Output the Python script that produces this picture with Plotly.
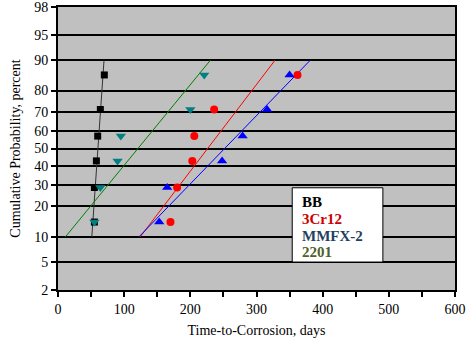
import numpy as np
import plotly.graph_objects as go
from statistics import NormalDist

nd = NormalDist()

# Data (days to corrosion), plotted at median ranks i/(n+1)
bb_days = [55, 55, 58, 60, 64, 70]
cr12_days = [170, 180, 203, 206, 236, 362]
mmfx_days = [153, 165, 248, 279, 316, 350]
d2201_days = [55, 64, 90, 95, 200, 221]
probs = [100 * i / 7 for i in range(1, 7)]

prob_ticks = [2, 5, 10, 20, 30, 40, 50, 60, 70, 80, 90, 95, 98]
x_ticks = [0, 100, 200, 300, 400, 500, 600]
legend_names = ["BB", "3Cr12", "MMFX-2", "2201"]


def z(p):
    return nd.inv_cdf(p / 100.0)


zs = np.array([z(p) for p in probs])
fit_ends = [10, 90]

series = [
    (bb_days, "#000000", "square", 7, "#333333"),
    (cr12_days, "#FF0000", "circle", 8, "#FF0000"),
    (mmfx_days, "#0000FF", "triangle-up", 9, "#0000FF"),
    (d2201_days, "#008080", "triangle-down", 9, "#008000"),
]

fig = go.Figure()

# fitted lines (least squares of days on normal score)
for days, mc, sym, sz, lc in series:
    slope, icpt = np.polyfit(zs, np.array(days, dtype=float), 1)
    zz = [z(p) for p in fit_ends]
    fig.add_trace(go.Scatter(x=[icpt + slope * v for v in zz], y=zz, mode="lines",
                             line=dict(color=lc, width=1), showlegend=False,
                             hoverinfo="skip"))

for days, mc, sym, sz, lc in series:
    fig.add_trace(go.Scatter(x=days, y=list(zs), mode="markers",
                             marker=dict(color=mc, symbol=sym, size=sz,
                                         line=dict(width=0)),
                             showlegend=False))

font = "Liberation Serif, Times New Roman, serif"

fig.update_xaxes(range=[0, 600], tickvals=x_ticks, showgrid=False,
                 automargin=False,
                 showline=True, linecolor="black", linewidth=2, mirror=True,
                 ticks="outside", ticklen=5, tickwidth=1.5, tickcolor="black",
                 minor=dict(dtick=50, ticks="outside", ticklen=5, tickwidth=1.5,
                            tickcolor="black", showgrid=False),
                 zeroline=False,
                 title=dict(text="Time-to-Corrosion, days", standoff=9,
                            font=dict(family=font, size=14, color="black")),
                 tickfont=dict(family=font, size=14, color="black"))

eps = 1e-4
fig.update_yaxes(range=[z(2) - eps, z(98) + eps], tickvals=[z(p) for p in prob_ticks],
                 ticktext=[str(p) for p in prob_ticks],
                 automargin=False, ticklabeloverflow="allow",
                 showgrid=True, gridcolor="black", gridwidth=2,
                 showline=True, linecolor="black", linewidth=2, mirror=True,
                 ticks="outside", ticklen=5, tickwidth=1.5, tickcolor="black",
                 zeroline=False,
                 title=dict(text="Cumulative Probability, percent", standoff=10,
                            font=dict(family=font, size=14, color="black")),
                 tickfont=dict(family=font, size=14, color="black"))

# legend box
fig.add_shape(type="rect", xref="x", yref="y", x0=354, x1=491,
              y0=-1.648, y1=-0.570, fillcolor="white",
              line=dict(color="black", width=1), layer="above")
leg_colors = ["#000000", "#CC0000", "#243F60", "#4F6228"]
leg_y = [-0.78, -1.03, -1.27, -1.50]
for name, col, yy in zip(legend_names, leg_colors, leg_y):
    fig.add_annotation(x=366, y=yy, xref="x", yref="y", text="<b>" + name + "</b>",
                       showarrow=False, xanchor="left", yanchor="middle",
                       font=dict(family=font, size=15, color=col))

fig.update_layout(width=470, height=339, margin=dict(l=58, r=15, t=7, b=49),
                  plot_bgcolor="#C0C0C0", paper_bgcolor="white",
                  showlegend=False)

fig.write_html("out.html")
